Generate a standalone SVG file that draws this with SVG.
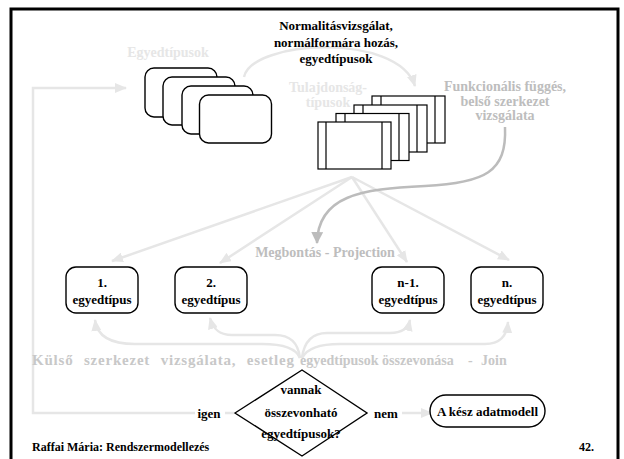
<svg xmlns="http://www.w3.org/2000/svg" width="624" height="459" viewBox="0 0 624 459">
<defs>
<style>
text{font-family:"Liberation Serif","Times New Roman",serif;font-weight:bold;}
.t{font-size:13px;fill:#000;text-anchor:middle;}
.lt{font-size:14px;fill:#e6e6e6;text-anchor:middle;}
.gt{font-size:14px;fill:#bdbdbd;text-anchor:middle;}
.kt{font-size:14px;fill:#c8c8c8;}
.ft{font-size:12px;fill:#000;}
.box{fill:#fff;stroke:#000;stroke-width:1.4;}
.tbl{fill:#fff;stroke:#000;stroke-width:1.2;}
.ln{fill:none;stroke:#000;stroke-width:1.2;}
.ga{fill:none;stroke:#e6e6e6;stroke-width:2.5;marker-end:url(#ah);}
.gl{fill:none;stroke:#e6e6e6;stroke-width:2.5;}
.da{fill:none;stroke:#bcbcbc;stroke-width:2.5;marker-end:url(#ahd);}
</style>
<marker id="ah" markerWidth="12" markerHeight="10" refX="11" refY="5" orient="auto" markerUnits="userSpaceOnUse">
<path d="M0,0 L12,5 L0,10 z" fill="#e6e6e6"/>
</marker>
<marker id="ahd" markerWidth="12" markerHeight="12" refX="11" refY="6" orient="auto" markerUnits="userSpaceOnUse">
<path d="M0,0 L12,6 L0,12 z" fill="#bcbcbc"/>
</marker>
</defs>
<rect width="624" height="459" fill="#fff"/>
<rect x="11" y="9" width="607" height="470" fill="none" stroke="#000" stroke-width="3"/>

<g id="connectors">
<path class="ga" d="M244,77 C252,40 398,32 415,86"/>
<path class="ga" d="M195,413 L33,413 L33,88 L126,88"/>
<path class="gl" d="M225,413 L234,413"/>
<path class="ga" d="M402,413 L432,413"/>
<path class="ga" d="M352,177 L112,261"/>
<path class="ga" d="M352,177 L220,263"/>
<path class="ga" d="M352,177 L407,262"/>
<path class="ga" d="M352,177 L509,260"/>
<path class="da" d="M505,127 C507,172 485,183 425,186 C360,189 318,196 317,243"/>
<path class="ga" d="M300,358 C296,348 282,344 262,344 L135,344 C110,344 97,336 95,320"/>
<path class="ga" d="M300,358 C298,342 290,335 275,335 L232,335 C219,335 213,329 210,318"/>
<path class="ga" d="M302,358 C304,342 312,333 327,333 L390,333 C402,333 408,329 410,320"/>
<path class="ga" d="M302,358 C306,350 318,344 340,344 L485,344 C500,344 507,336 508,322"/>
</g>

<g id="title">
<text class="t" x="336" y="30">Normalitásvizsgálat,</text>
<text class="t" x="336" y="46.5">normálformára hozás,</text>
<text class="t" x="336" y="63">egyedtípusok</text>
</g>

<g id="egyedtipusok">
<text class="lt" x="168" y="57">Egyedtípusok</text>
<rect class="box" x="145" y="68" width="72" height="49" rx="9"/>
<rect class="box" x="163" y="77" width="72" height="48" rx="9"/>
<rect class="box" x="182" y="86" width="71" height="48" rx="9"/>
<rect class="box" x="199.5" y="95" width="72" height="48" rx="9"/>
</g>

<g id="tulajdonsagtipusok">
<text class="lt" x="328" y="92">Tulajdonság-</text>
<text class="lt" x="328" y="107">típusok</text>
<rect class="tbl" x="372" y="96" width="73" height="47"/>
<path class="ln" d="M381,96 V143 M435,96 V143"/>
<rect class="tbl" x="354" y="105" width="73" height="47"/>
<path class="ln" d="M363,105 V152 M417,105 V152"/>
<rect class="tbl" x="336" y="113.5" width="73" height="47"/>
<path class="ln" d="M345,113.5 V160.5 M399,113.5 V160.5"/>
<rect class="tbl" x="318" y="122" width="73" height="47"/>
<path class="ln" d="M326,122 V169 M382,122 V169"/>
</g>

<g id="funkcionalis">
<text class="gt" x="505" y="91">Funkcionális függés,</text>
<text class="gt" x="505" y="105.5">belső szerkezet</text>
<text class="gt" x="505" y="120">vizsgálata</text>
</g>

<g id="megbontas">
<text class="gt" x="325" y="257">Megbontás - Projection</text>
</g>

<g id="e1">
<rect class="box" x="66" y="267" width="72" height="46" rx="10"/>
<text class="t" x="102" y="286.5">1.</text>
<text class="t" x="102" y="303.5">egyedtípus</text>
</g>
<g id="e2">
<rect class="box" x="175" y="267" width="72" height="46" rx="10"/>
<text class="t" x="211" y="286.5">2.</text>
<text class="t" x="211" y="303.5">egyedtípus</text>
</g>
<g id="en1">
<rect class="box" x="372" y="267" width="72" height="46" rx="10"/>
<text class="t" x="408" y="286.5">n-1.</text>
<text class="t" x="408" y="303.5">egyedtípus</text>
</g>
<g id="en">
<rect class="box" x="471" y="267" width="72" height="46" rx="10"/>
<text class="t" x="507" y="286.5">n.</text>
<text class="t" x="507" y="303.5">egyedtípus</text>
</g>

<g id="kulso">
<text class="kt" x="32" y="365" style="font-size:15px" word-spacing="6" textLength="262" lengthAdjust="spacing">Külső szerkezet vizsgálata, esetleg</text>
<text class="kt" x="300" y="365">egyedtípusok összevonása</text>
<text class="kt" x="468" y="365">-</text>
<text class="kt" x="481" y="365">Join</text>
</g>

<g id="dontes">
<path class="box" d="M235,413 L302,370 L367,413 L302,456 Z" style="fill:none"/>
<text class="t" x="301" y="393.5">vannak</text>
<text class="t" x="301" y="417">összevonható</text>
<text class="t" x="301" y="437.5">egyedtípusok?</text>
</g>
<g id="igen"><text class="t" x="209" y="417.5">igen</text></g>
<g id="nem"><text class="t" x="386" y="417.5">nem</text></g>

<g id="kesz">
<rect class="box" x="430" y="395" width="115" height="32" rx="16"/>
<text class="t" x="487.5" y="415.5">A kész adatmodell</text>
</g>

<g id="footer">
<text class="ft" x="32" y="451">Raffai Mária: Rendszermodellezés</text>
<text class="ft" x="579" y="451">42.</text>
</g>
</svg>
